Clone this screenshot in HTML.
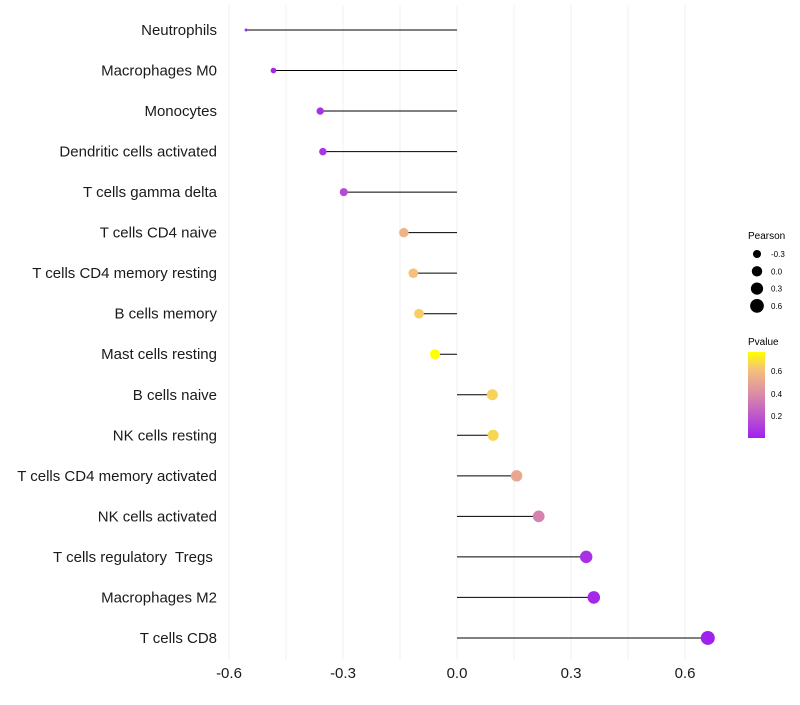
<!DOCTYPE html>
<html><head><meta charset="utf-8"><style>
body{margin:0;background:#fff;font-family:"Liberation Sans",sans-serif;}
svg text{font-family:"Liberation Sans",sans-serif;white-space:pre;}
</style></head><body>
<svg id="chart" width="800" height="700" xmlns="http://www.w3.org/2000/svg">
<defs><linearGradient id="pg" x1="0" y1="1" x2="0" y2="0">
<stop offset="0" stop-color="#a020f0"/><stop offset="0.5" stop-color="#d98aa8"/><stop offset="0.8" stop-color="#f5c27a"/><stop offset="1" stop-color="#ffff00"/></linearGradient></defs>
<g id="grid"></g>
<g id="marks"></g>
<g id="ylabels"></g>
<g id="xlabels"></g>
<g id="sizeLeg">
<text x="748" y="239" font-size="10">Pearson</text>
</g>
<g>
<text x="748" y="345" font-size="10">Pvalue</text>
<rect x="748" y="352" width="17" height="86" fill="url(#pg)"/>
<text x="771" y="374" font-size="8">0.6</text>
<text x="771" y="397" font-size="8">0.4</text>
<text x="771" y="419" font-size="8">0.2</text>
</g>
</svg>
<script>
const categories=["Neutrophils","Macrophages M0","Monocytes","Dendritic cells activated","T cells gamma delta","T cells CD4 naive","T cells CD4 memory resting","B cells memory","Mast cells resting","B cells naive","NK cells resting","T cells CD4 memory activated","NK cells activated","T cells regulatory  Tregs ","Macrophages M2","T cells CD8"];
const pearson=[-0.555,-0.483,-0.36,-0.353,-0.298,-0.14,-0.115,-0.1,-0.058,0.093,0.095,0.157,0.215,0.34,0.36,0.66];
const pvalues=[0.02,0.03,0.06,0.07,0.15,0.55,0.6,0.64,0.78,0.65,0.66,0.5,0.35,0.06,0.03,0.003];
const xTicks=[-0.6,-0.3,0.0,0.3,0.6];
const xTickLabels=["-0.6","-0.3","0.0","0.3","0.6"];
const sizeBreaks=[-0.3,0.0,0.3,0.6];
const ns="http://www.w3.org/2000/svg";
const x=v=>457+v*(228/0.6);
const y=i=>30+i*40.53;
const minP=Math.min(...pearson),maxP=Math.max(...pearson);
const r=v=>1.5+5.5*Math.sqrt(Math.max(0,(v-minP)/(maxP-minP)));
const stops=[[0,[160,32,240]],[0.38,[217,138,168]],[0.61,[245,194,122]],[0.76,[255,255,0]]];
function col(p){p=Math.max(0,Math.min(0.76,p));for(let k=0;k<stops.length-1;k++){const[a,ca]=stops[k],[b,cb]=stops[k+1];if(p<=b){const t=(p-a)/(b-a);return`rgb(${ca.map((c,j)=>Math.round(c+(cb[j]-c)*t)).join(",")})`;}}return"rgb(255,255,0)";}
function mk(tag,attrs,parent){const e=document.createElementNS(ns,tag);for(const k in attrs)e.setAttribute(k,attrs[k]);parent.appendChild(e);return e;}
const grid=document.getElementById("grid"),marks=document.getElementById("marks"),yl=document.getElementById("ylabels"),xl=document.getElementById("xlabels");
for(let v=-0.6;v<=0.61;v+=0.15){const g=mk("line",{x1:x(v),x2:x(v),y1:5,y2:660,stroke:"#f0f0f0","stroke-width":1},grid);

}
categories.forEach((c,i)=>{
const t=mk("text",{x:217,y:y(i)+5,"text-anchor":"end","font-size":15,fill:"#1a1a1a"},yl);t.textContent=c;


const l=mk("line",{x1:x(0),x2:x(pearson[i]),y1:y(i),y2:y(i),stroke:"#000","stroke-width":1},marks);


const d=mk("circle",{cx:x(pearson[i]),cy:y(i),r:r(pearson[i]),fill:col(pvalues[i])},marks);


});
xTicks.forEach((v,i)=>{const t=mk("text",{x:x(v),y:678,"text-anchor":"middle","font-size":15,fill:"#1a1a1a"},xl);t.textContent=xTickLabels[i];

});
const sl=document.getElementById("sizeLeg");
sizeBreaks.forEach((v,i)=>{const cy=254+i*17.3;
const c=mk("circle",{cx:757,cy:cy,r:r(v),fill:"#000"},sl);


const t=mk("text",{x:771,y:cy+3,"font-size":8},sl);t.textContent=(v<0?"-":"")+Math.abs(v).toFixed(1);

});
</script>
</body></html>
